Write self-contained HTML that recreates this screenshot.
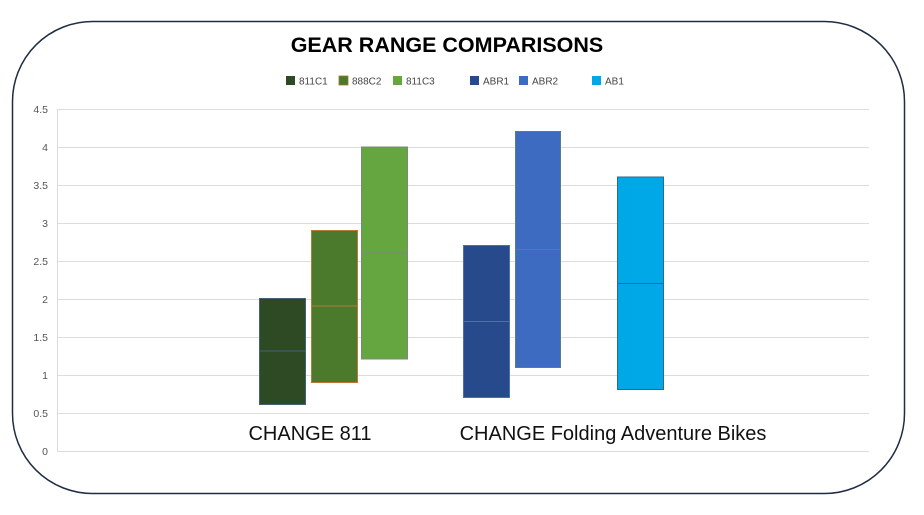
<!DOCTYPE html>
<html><head><meta charset="utf-8"><style>
html,body{margin:0;padding:0;background:#fff;}
svg{display:block;font-family:"Liberation Sans",sans-serif;}
</style></head><body>
<svg width="924" height="515" viewBox="0 0 924 515" xmlns="http://www.w3.org/2000/svg">
<rect x="12.5" y="21.5" width="892" height="472" rx="80" ry="80" fill="#fff" stroke="#1f2d45" stroke-width="1.5"/>
<text x="447" y="52" text-anchor="middle" font-size="21.5" font-weight="bold" fill="#000">GEAR RANGE COMPARISONS</text>
<g font-size="10" fill="#444">
<rect x="286" y="76" width="9" height="9" fill="#2e4a25"/><text x="299" y="84.5">811C1</text>
<rect x="339" y="76" width="9" height="9" fill="#4b7a2c" stroke="#a0762f" stroke-width="0.8"/><text x="352" y="84.5">888C2</text>
<rect x="393" y="76" width="9" height="9" fill="#66a640"/><text x="406" y="84.5">811C3</text>
<rect x="470" y="76" width="9" height="9" fill="#264a8c"/><text x="483" y="84.5">ABR1</text>
<rect x="519" y="76" width="9" height="9" fill="#3e6bc2"/><text x="532" y="84.5">ABR2</text>
<rect x="592" y="76" width="9" height="9" fill="#00a8e8"/><text x="605" y="84.5">AB1</text>
</g>
<g stroke="#dcdcdc" stroke-width="1">
<line x1="57" y1="109.5" x2="869" y2="109.5"/>
<line x1="57" y1="147.5" x2="869" y2="147.5"/>
<line x1="57" y1="185.5" x2="869" y2="185.5"/>
<line x1="57" y1="223.5" x2="869" y2="223.5"/>
<line x1="57" y1="261.5" x2="869" y2="261.5"/>
<line x1="57" y1="299.5" x2="869" y2="299.5"/>
<line x1="57" y1="337.5" x2="869" y2="337.5"/>
<line x1="57" y1="375.5" x2="869" y2="375.5"/>
<line x1="57" y1="413.5" x2="869" y2="413.5"/>
<line x1="57" y1="451.5" x2="869" y2="451.5"/>
<line x1="57.5" y1="109" x2="57.5" y2="451"/>
</g>
<g font-size="10.5" fill="#555" text-anchor="end">
<text x="48" y="113">4.5</text><text x="48" y="151">4</text><text x="48" y="189">3.5</text>
<text x="48" y="227">3</text><text x="48" y="265">2.5</text><text x="48" y="303">2</text>
<text x="48" y="341">1.5</text><text x="48" y="379">1</text><text x="48" y="417">0.5</text>
<text x="48" y="455">0</text>
</g>
<rect x="259.5" y="298.5" width="46" height="106" fill="#2e4a25" stroke="#44607a" stroke-width="1"/>
<line x1="260" y1="351" x2="305" y2="351" stroke="#44607a"/>
<rect x="311.5" y="230.5" width="46" height="152" fill="#4b7a2c" stroke="#b8793a" stroke-width="1"/>
<line x1="312" y1="306" x2="357" y2="306" stroke="#b8793a"/>
<rect x="361.5" y="147" width="46" height="212" fill="#66a640" stroke="#7b8a7b" stroke-width="1"/>
<line x1="362" y1="253" x2="407" y2="253" stroke="#7b8a7b"/>
<rect x="463.5" y="245.5" width="46" height="152" fill="#264a8c" stroke="#4f6fa8" stroke-width="1"/>
<line x1="464" y1="321.5" x2="509" y2="321.5" stroke="#4f6fa8"/>
<rect x="515.5" y="131.5" width="45" height="236" fill="#3e6bc2" stroke="#5a8070" stroke-width="1"/>
<line x1="516" y1="249.5" x2="560" y2="249.5" stroke="#5a8070"/>
<rect x="617.5" y="177" width="46" height="212.5" fill="#00a8e8" stroke="#2f6a8a" stroke-width="1"/>
<line x1="618" y1="283.5" x2="663" y2="283.5" stroke="#2f6a8a"/>
<g font-size="20" fill="#111">
<text x="310" y="440" text-anchor="middle">CHANGE 811</text>
<text x="613" y="440" text-anchor="middle">CHANGE Folding Adventure Bikes</text>
</g>
</svg>
</body></html>
